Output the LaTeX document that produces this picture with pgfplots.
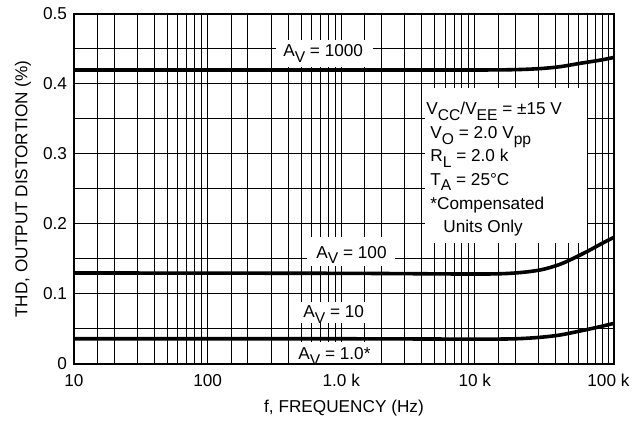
\documentclass[border=0pt]{standalone}
\usepackage{fontspec}
\setmainfont{Liberation Sans}
\usepackage{pgfplots}
\pgfplotsset{compat=1.18}

\newcommand\fs{\fontsize{8.6}{10.3}\selectfont}
\newcommand\sub[1]{\raisebox{-0.32em}{\fontsize{7.8}{8}\selectfont #1}}

\begin{document}
\begin{tikzpicture}
\begin{axis}[
  scale only axis, width=270pt, height=175pt,
  xmode=log, xmin=10, xmax=110000, ymin=0, ymax=0.5,
  xtick={10,100,1000,10000,100000},
  xticklabels={10,100,1.0 k,10 k,100 k},
  minor xtick={15,20,30,40,50,60,70,80,90,
               150,200,300,400,500,600,700,800,900,
               1500,2000,3000,4000,5000,6000,7000,8000,9000,
               15000,20000,30000,40000,50000,60000,70000,80000,90000},
  ytick={0,0.1,0.2,0.3,0.4,0.5},
  yticklabels={0,0.1,0.2,0.3,0.4,0.5},
  minor ytick={0.05,0.15,0.25,0.35,0.45},
  grid=both,
  major grid style={black, line width=0.5pt},
  minor grid style={black, line width=0.5pt},
  major tick length=0pt, minor tick length=0pt,
  axis line style={black, line width=0.6pt},
  tick label style={font=\fs},
  xlabel={f, FREQUENCY (Hz)},
  ylabel={THD, OUTPUT DISTORTION (\%)},
  every axis x label/.style={at={(axis description cs:0.5,-0.1257)}, anchor=center, font=\fs},
  every axis y label/.style={at={(axis description cs:-0.0944,0.5)}, anchor=center, rotate=90, font=\fs},
  xticklabel style={yshift=-1.5pt},
  clip=false,
]
% white boxes behind the labels
\fill[white] (axis cs:325,0.4629) rectangle (axis cs:1730,0.4243);
\fill[white] (axis cs:4237,0.3943) rectangle (axis cs:69180,0.1729);
\fill[white] (axis cs:555,0.1814) rectangle (axis cs:2529,0.14);
\fill[white] (axis cs:467,0.0886) rectangle (axis cs:1791,0.0586);
\fill[white] (axis cs:414,0.0314) rectangle (axis cs:1791,0);

% Av = 1000
\addplot[black, line width=1.8pt, smooth] coordinates {
  (10,0.42) (1000,0.42) (10000,0.42) (20000,0.4205) (30800,0.422)
  (43400,0.4247) (61300,0.4295) (86500,0.434) (110000,0.438)};
% Av = 100
\addplot[black, line width=1.8pt, smooth] coordinates {
  (10,0.13) (1000,0.1295) (10000,0.1285) (19400,0.1298) (30800,0.1343)
  (43400,0.1424) (58000,0.1533) (72800,0.1629) (91600,0.1733) (110000,0.181)};
% Av = 10 and 1.0
\addplot[black, line width=1.8pt, smooth] coordinates {
  (10,0.036) (1000,0.036) (10000,0.0355) (20000,0.036) (30800,0.0381)
  (43400,0.0414) (61300,0.0471) (86500,0.0533) (110000,0.0581)};

\draw[black, line width=1.3pt] (rel axis cs:0,1) -- (rel axis cs:0,0) -- (rel axis cs:1,0);

\node[anchor=base west, inner sep=0pt, font=\fs] at (axis cs:366,0.4386) {A\sub{V} = 1000};
\node[anchor=base west, inner sep=0pt, font=\fs] at (axis cs:648,0.151) {A\sub{V} = 100};
\node[anchor=base west, inner sep=0pt, font=\fs] at (axis cs:518,0.0657) {A\sub{V} = 10};
\node[anchor=base west, inner sep=0pt, font=\fs] at (axis cs:475,0.0057) {A\sub{V} = 1.0*};

\node[anchor=base west, inner sep=0pt, font=\fs] at (axis cs:4315,0.3557) {V\sub{CC}/V\sub{EE} = ±15 V};
\node[anchor=base west, inner sep=0pt, font=\fs] at (axis cs:4621,0.3221) {V\sub{O} = 2.0 V\sub{pp}};
\node[anchor=base west, inner sep=0pt, font=\fs] at (axis cs:4621,0.2886) {R\sub{L} = 2.0 k};
\node[anchor=base west, inner sep=0pt, font=\fs] at (axis cs:4621,0.2550) {T\sub{A} = 25°C};
\node[anchor=base west, inner sep=0pt, font=\fs] at (axis cs:4621,0.2214) {*Compensated};
\node[anchor=base west, inner sep=0pt, font=\fs] at (axis cs:5781,0.1879) {Units Only};
\end{axis}
\path ([shift={(-37pt,-33pt)}]current axis.south west) rectangle ([shift={(13.5pt,7pt)}]current axis.north east);
\end{tikzpicture}
\end{document}
